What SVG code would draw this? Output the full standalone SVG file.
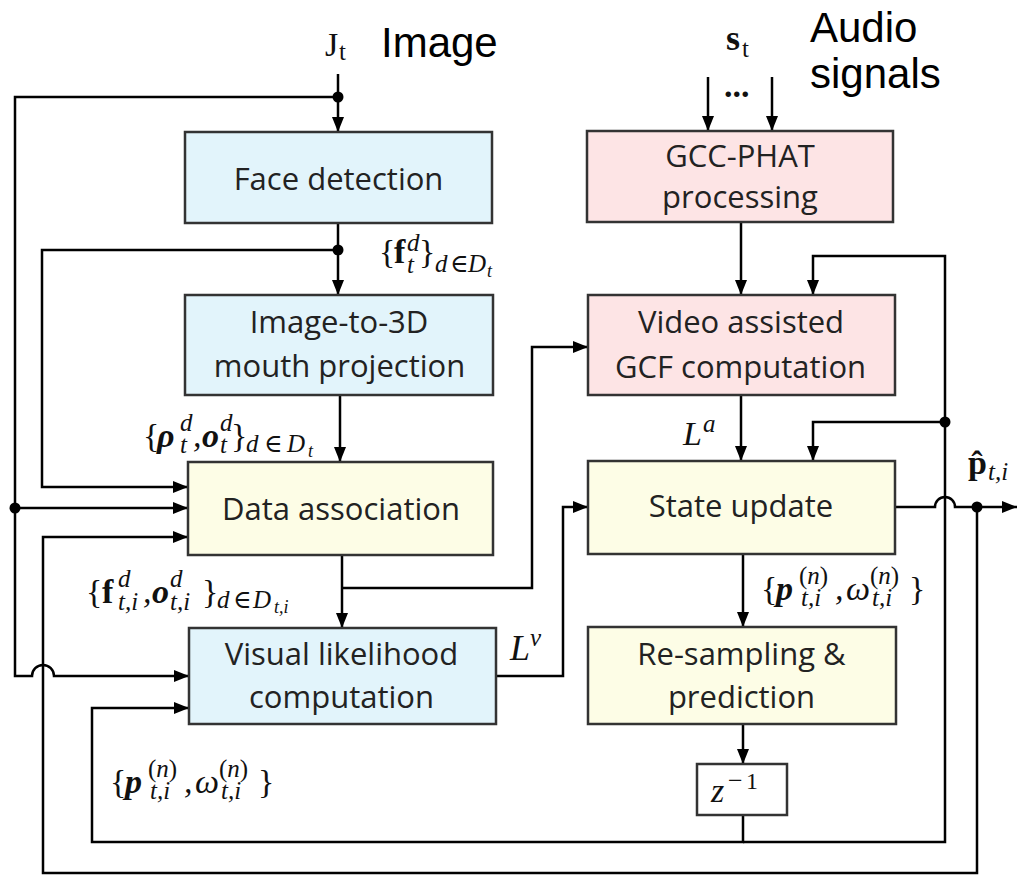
<svg xmlns="http://www.w3.org/2000/svg" width="1020" height="875" viewBox="0 0 1020 875">
<defs>
<marker id="ar" markerUnits="userSpaceOnUse" markerWidth="15" markerHeight="12" refX="15" refY="6" orient="auto">
<path d="M0,0 L15,6 L0,12 z" fill="#000"/>
</marker>
<style>
.box{stroke:#333;stroke-width:2.5}
.blue{fill:#E2F4FB}
.pink{fill:#FDE4E5}
.yel{fill:#FDFDE6}
.wht{fill:#fff}
.t{font-family:"Open Sans","Noto Sans",sans-serif;font-size:31px;fill:#222;text-anchor:middle}
.c{fill:none;stroke:#000;stroke-width:2.5}
.a{marker-end:url(#ar)}
.lbl{font-family:"Liberation Sans",Arial,sans-serif;font-size:42px;fill:#000}
.m{font-family:"Liberation Serif","DejaVu Serif",serif;font-style:italic;font-size:34px;fill:#111}
.u{font-style:normal}
.bu{font-weight:bold;font-style:normal}
.bi{font-weight:bold;font-style:italic}
.s{font-size:25px}
.ss{font-size:18px}
</style>
</defs>

<g id="connectors">
<path class="c a" d="M338,74 V132"/>
<path class="c a" d="M338,97 H15 V676 H32 A11,11 0 0 1 54,676 H189"/>
<path class="c a" d="M15,508 H188"/>
<path class="c a" d="M338,223 V295"/>
<path class="c a" d="M338,250 H42 V487 H188"/>
<path class="c a" d="M340,395 V462"/>
<path class="c a" d="M342,555 V628"/>
<path class="c a" d="M342,588 H532 V347 H588"/>
<path class="c a" d="M496,676 H563 V507 H588"/>
<path class="c a" d="M743,815 V842 H92 V708 H189"/>
<path class="c a" d="M743,842 H945 V256 H813 V295"/>
<path class="c a" d="M945,422 H813 V461"/>
<path class="c a" d="M977,507 V873 H43 V537 H188"/>
<path class="c a" d="M895,507 H935 A10,10 0 0 1 955,507 H1017"/>
<path class="c a" d="M741,222 V295"/>
<path class="c a" d="M708,77 V131"/>
<path class="c a" d="M772,77 V131"/>
<path class="c a" d="M741,395 V461"/>
<path class="c a" d="M743,554 V627"/>
<path class="c a" d="M743,724 V764"/>
<circle cx="338" cy="97" r="5.5"/>
<circle cx="338" cy="250" r="5.5"/>
<circle cx="15" cy="508" r="5.5"/>
<circle cx="945" cy="422" r="5.5"/>
<circle cx="977" cy="507" r="5.5"/>
</g>

<g id="face-detection">
<rect class="box blue" x="185" y="132" width="307" height="91"/>
<text class="t" x="338.5" y="190">Face detection</text>
</g>
<g id="image-to-3d">
<rect class="box blue" x="185" y="295" width="308" height="100"/>
<text class="t" x="339" y="333">Image-to-3D</text>
<text class="t" x="339.5" y="377">mouth projection</text>
</g>
<g id="data-association">
<rect class="box yel" x="188" y="462" width="305" height="93"/>
<text class="t" x="341" y="520">Data association</text>
</g>
<g id="visual-likelihood">
<rect class="box blue" x="189" y="628" width="307" height="96"/>
<text class="t" x="341.5" y="665">Visual likelihood</text>
<text class="t" x="341.5" y="708">computation</text>
</g>
<g id="gcc-phat">
<rect class="box pink" x="587" y="131" width="306" height="91"/>
<text class="t" x="740" y="167">GCC-PHAT</text>
<text class="t" x="740" y="208">processing</text>
</g>
<g id="video-gcf">
<rect class="box pink" x="588" y="295" width="307" height="100"/>
<text class="t" x="741" y="333">Video assisted</text>
<text class="t" x="740.5" y="378">GCF computation</text>
</g>
<g id="state-update">
<rect class="box yel" x="588" y="461" width="307" height="93"/>
<text class="t" x="741" y="517">State update</text>
</g>
<g id="resampling">
<rect class="box yel" x="588" y="627" width="308" height="97"/>
<text class="t" x="741.5" y="665">Re-sampling &amp;</text>
<text class="t" x="741.5" y="708">prediction</text>
</g>
<g id="z-delay">
<rect class="box wht" x="697" y="764" width="90" height="51"/>
<text class="m" y="802" font-size="38px"><tspan x="711">z</tspan><tspan x="728" y="789" class="u" font-size="26px">−</tspan><tspan x="746" y="789" class="u" font-size="24px">1</tspan></text>
</g>

<g id="labels">
<text class="lbl" x="381" y="57">Image</text>
<text class="lbl" x="810" y="42">Audio</text>
<text class="lbl" x="810" y="88">signals</text>
<text class="m u" y="56"><tspan x="325">J</tspan><tspan x="339" y="60" class="s">t</tspan></text>
<text class="m" y="50"><tspan x="726" class="bu" font-size="36px">s</tspan><tspan x="742" y="57" class="s u">t</tspan></text>
<text class="m bu" x="724" y="97">...</text>

<text class="m" y="263"><tspan x="379" class="u">{</tspan><tspan x="394" class="bu">f</tspan><tspan x="407" y="251" class="s">d</tspan><tspan x="407" y="273" class="s">t</tspan><tspan x="419" y="263" class="u">}</tspan><tspan x="435" y="272" class="s">d</tspan><tspan x="450" y="272" class="s u">∈</tspan><tspan x="468" y="272" class="s">D</tspan><tspan x="487" y="277" class="ss">t</tspan></text>

<text class="m" y="447"><tspan x="143" class="u">{</tspan><tspan x="157" class="bi">ρ</tspan><tspan x="180" y="431" class="s">d</tspan><tspan x="180" y="453" class="s">t</tspan><tspan x="193" y="447">,</tspan><tspan x="202" class="bi">o</tspan><tspan x="220" y="431" class="s">d</tspan><tspan x="220" y="453" class="s">t</tspan><tspan x="231" y="447" class="u">}</tspan><tspan x="246" y="452" class="s">d</tspan><tspan x="264" y="452" class="s u">∈</tspan><tspan x="287" y="452" class="s">D</tspan><tspan x="308" y="457" class="ss">t</tspan></text>

<text class="m" y="603"><tspan x="86" class="u">{</tspan><tspan x="102" class="bu">f</tspan><tspan x="118" y="587" class="s">d</tspan><tspan x="118" y="610" class="s">t,i</tspan><tspan x="143" y="603">,</tspan><tspan x="152" class="bi">o</tspan><tspan x="170" y="587" class="s">d</tspan><tspan x="170" y="610" class="s">t,i</tspan><tspan x="202" y="603" class="u">}</tspan><tspan x="217" y="608" class="s">d</tspan><tspan x="233" y="608" class="s u">∈</tspan><tspan x="253" y="608" class="s">D</tspan><tspan x="274" y="613" class="ss">t,i</tspan></text>

<text class="m" y="793"><tspan x="110" class="u">{</tspan><tspan x="125" class="bi">p</tspan><tspan x="148" y="777" class="s u">(<tspan class="m s">n</tspan>)</tspan><tspan x="150" y="799" class="s">t,i</tspan><tspan x="184" y="793">,</tspan><tspan x="195">ω</tspan><tspan x="219" y="777" class="s u">(<tspan class="m s">n</tspan>)</tspan><tspan x="221" y="799" class="s">t,i</tspan><tspan x="258" y="793" class="u">}</tspan></text>

<text class="m" y="600"><tspan x="761" class="u">{</tspan><tspan x="776" class="bi">p</tspan><tspan x="799" y="584" class="s u">(<tspan class="m s">n</tspan>)</tspan><tspan x="801" y="606" class="s">t,i</tspan><tspan x="835" y="600">,</tspan><tspan x="846">ω</tspan><tspan x="870" y="584" class="s u">(<tspan class="m s">n</tspan>)</tspan><tspan x="872" y="606" class="s">t,i</tspan><tspan x="909" y="600" class="u">}</tspan></text>

<text class="m" y="445"><tspan x="683">L</tspan><tspan x="703" y="432" class="s">a</tspan></text>
<text class="m" y="660"><tspan x="510" font-size="36px">L</tspan><tspan x="530" y="646" class="s">v</tspan></text>

<text class="m" y="474"><tspan x="968" class="bu">p̂</tspan><tspan x="988" y="480" class="s">t,i</tspan></text>
</g>
</svg>
